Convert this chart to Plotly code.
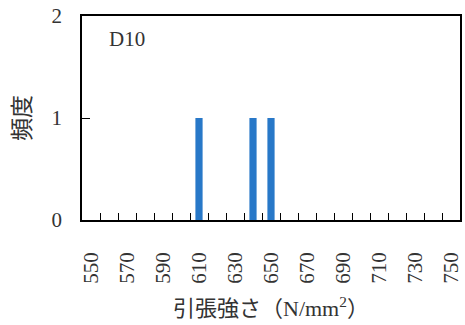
import plotly.graph_objects as go

categories = list(range(550, 751, 10))
counts = [0, 0, 0, 0, 0, 0, 1, 0, 0, 1, 1, 0, 0, 0, 0, 0, 0, 0, 0, 0, 0]
label_vals = list(range(550, 751, 20))
minor_ticks = [c + 5 for c in categories[:-1]]
y_ticks = [0, 1, 2]

FONT = "Liberation Serif, Noto Sans CJK JP"

fig = go.Figure()
fig.add_trace(go.Bar(x=categories, y=counts, width=4, marker=dict(color="#2878C8", line=dict(width=0))))

fig.update_layout(
    width=465, height=325,
    margin=dict(l=82, r=5, t=16, b=105, autoexpand=False),
    plot_bgcolor="white", paper_bgcolor="white",
    font=dict(family=FONT, size=21, color="#333333"),
    showlegend=False,
    xaxis=dict(
        range=[545, 755], tickvals=label_vals, ticktext=[str(v) for v in label_vals],
        tickangle=-90, ticks="", ticklabelstandoff=22, automargin=False, ticklabeloverflow="allow",
        showline=True, linecolor="black", linewidth=1.5, mirror=True,
        showgrid=False, zeroline=False,
        minor=dict(tickvals=minor_ticks, ticks="inside", ticklen=7, tickcolor="black", tickwidth=1.2),
    ),
    yaxis=dict(
        range=[0, 2], tickvals=y_ticks, ticks="inside", ticklen=8, tickcolor="black", tickwidth=1.2,
        ticklabelstandoff=14, automargin=False, ticklabeloverflow="allow",
        showline=True, linecolor="black", linewidth=1.5, mirror=True,
        showgrid=False, zeroline=False,
    ),
    annotations=[
        dict(text="D10", x=0.065, y=0.885, xref="paper", yref="paper",
             xanchor="left", yanchor="middle", showarrow=False, font=dict(size=21)),
        dict(text="引張強さ（N/mm<sup>2</sup>）", x=0.5, y=-0.426, xref="paper", yref="paper",
             xanchor="center", yanchor="middle", showarrow=False, font=dict(size=22)),
        dict(text="頻度", x=-0.159, y=0.5, xref="paper", yref="paper", textangle=-90,
             xanchor="center", yanchor="middle", showarrow=False, font=dict(size=23)),
    ],
)

fig.write_html("out.html", config={"displayModeBar": False},
               post_script="document.body.style.margin='0';")
